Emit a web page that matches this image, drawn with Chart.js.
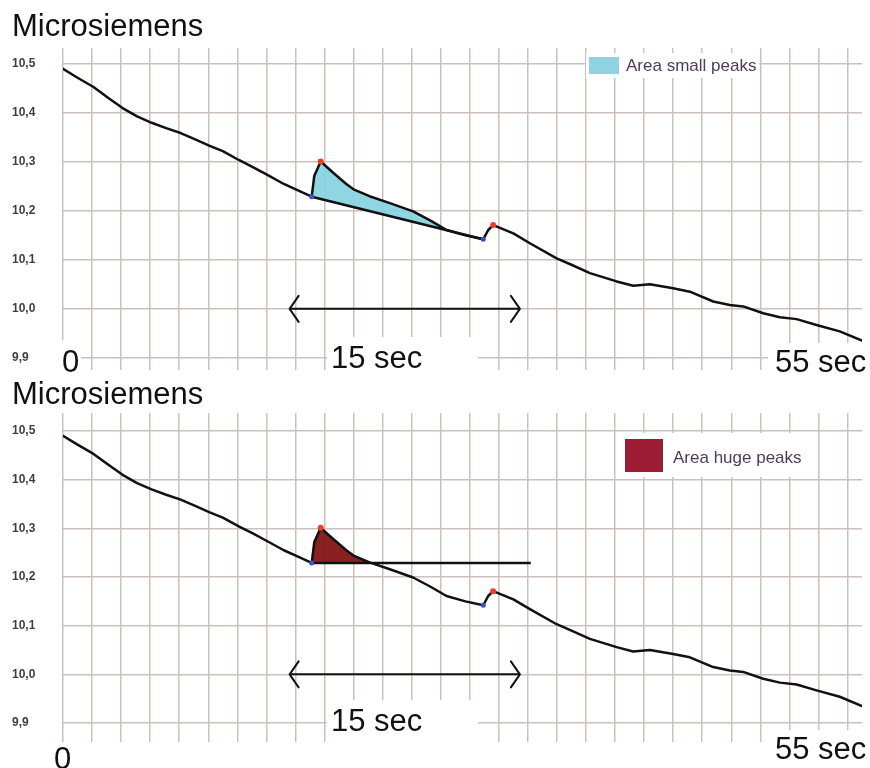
<!DOCTYPE html>
<html>
<head>
<meta charset="utf-8">
<script src="https://cdn.jsdelivr.net/npm/chart.js@4.4.1/dist/chart.umd.min.js"></script>
<style>
  html, body { margin: 0; padding: 0; background: #fff; }
  #wrap { position: relative; width: 870px; height: 768px; overflow: hidden; }
  canvas { display: block; }
</style>
</head>
<body>
<div id="wrap">
  <canvas id="panelSmall" width="870" height="380"></canvas>
  <canvas id="panelHuge" width="870" height="388"></canvas>
</div>
<script>
// Skin conductance trace: time in seconds, value in microsiemens
const timeSec = [0, 1, 2.1, 3.1, 4.1, 5.1, 6.1, 7.1, 8.1, 9.1, 10.1, 11, 12.1, 13.1, 14.1, 15.2, 16.1,
  17.12, 17.3, 17.74, 18.6, 19.5, 20, 21.1, 22.5, 24.1, 25.3, 26.4, 27.7, 28.93, 29.27, 29.61,
  31, 32.14, 33.98, 35, 36.27, 38.11, 39.25, 40.4, 41.2, 42, 43.15, 44.76, 45.9, 46.82,
  48.2, 49.35, 50.5, 51.87, 53.47, 55];
const conductance = [10.490, 10.472, 10.453, 10.431, 10.410, 10.393, 10.380, 10.369, 10.359, 10.346,
  10.333, 10.322, 10.304, 10.289, 10.273, 10.255, 10.243,
  10.229, 10.272, 10.301, 10.278, 10.255, 10.244, 10.230, 10.216, 10.199, 10.180, 10.161, 10.150,
  10.142, 10.161, 10.171,
  10.154, 10.134, 10.103, 10.090, 10.073, 10.056, 10.047, 10.050, 10.046, 10.042, 10.035, 10.015,
  10.008, 10.005, 9.991, 9.983, 9.979, 9.967, 9.954, 9.935];

// Detected response peaks (red) and their onsets (blue)
const peakTimes = [17.74, 29.61];
const peakValues = [10.301, 10.171];
const onsetTimes = [17.12, 28.93];
const onsetValues = [10.229, 10.142];

// End of the flat reference level used for the large-peak area
const hugeBaselineEnd = 32.2;

// Measuring span marker
const spanStart = 15.6;
const spanEnd = 31.45;
const spanLevel = 10.0;

// Axis grid and labels
const xGridTicks = [0, 2, 4, 6, 8, 10, 12, 14, 16, 18, 20, 22, 24, 26, 28, 30, 32, 34, 36, 38, 40, 42, 44, 46, 48, 50, 52, 54];
const yTicks = [9.9, 10.0, 10.1, 10.2, 10.3, 10.4, 10.5];
const yTickLabels = ['9,9', '10,0', '10,1', '10,2', '10,3', '10,4', '10,5'];

const titleText = 'Microsiemens';
const startLabel = '0';
const spanLabel = '15 sec';
const endLabel = '55 sec';
const smallLegend = 'Area small peaks';
const hugeLegend = 'Area huge peaks';

const FONT = '"Liberation Sans", Arial, Helvetica, sans-serif';
Chart.defaults.font.family = FONT;

const GRID = '#cbc0bc';

const curvePoints = timeSec.map((t, i) => ({ x: t, y: conductance[i] }));
const responsePoints = curvePoints.filter(p => p.x >= onsetTimes[0] && p.x <= onsetTimes[1]);
const peakPoints = peakTimes.map((t, i) => ({ x: t, y: peakValues[i] }));
const onsetPoints = onsetTimes.map((t, i) => ({ x: t, y: onsetValues[i] }));

// Draws label backgrounds, the span arrowheads, the legend and the big axis captions
const panelDecor = {
  id: 'panelDecor',
  beforeDatasetsDraw(chart, args, opts) {
    const ctx = chart.ctx;
    ctx.save();
    ctx.fillStyle = '#ffffff';
    const lg = opts.legend;
    ctx.fillRect(lg.box[0], lg.box[1], lg.box[2], lg.box[3]);
    opts.labels.forEach(l => { if (l.box) ctx.fillRect(l.box[0], l.box[1], l.box[2], l.box[3]); });
    ctx.restore();
  },
  afterDatasetsDraw(chart, args, opts) {
    const ctx = chart.ctx;
    const xs = chart.scales.x, ys = chart.scales.y;
    ctx.save();
    // arrowheads of the span marker
    const y = ys.getPixelForValue(spanLevel);
    const x1 = xs.getPixelForValue(spanStart);
    const x2 = xs.getPixelForValue(spanEnd);
    ctx.strokeStyle = '#111';
    ctx.lineWidth = 2;
    ctx.lineJoin = 'round';
    ctx.lineCap = 'round';
    ctx.beginPath();
    ctx.moveTo(x1 + 9, y - 13); ctx.lineTo(x1, y); ctx.lineTo(x1 + 9, y + 13);
    ctx.moveTo(x2 - 9, y - 13); ctx.lineTo(x2, y); ctx.lineTo(x2 - 9, y + 13);
    ctx.stroke();

    // legend
    const lg = opts.legend;
    ctx.fillStyle = lg.color;
    ctx.fillRect(lg.swatch[0], lg.swatch[1], lg.swatch[2], lg.swatch[3]);
    ctx.fillStyle = '#4f3b5c';
    ctx.font = '17px ' + FONT;
    ctx.textBaseline = 'middle';
    ctx.textAlign = 'left';
    ctx.fillText(lg.text, lg.tx, lg.ty);

    // time captions
    ctx.fillStyle = '#111';
    ctx.font = '31px ' + FONT;
    ctx.textBaseline = 'alphabetic';
    opts.labels.forEach(l => ctx.fillText(l.text, l.x, l.y));
    ctx.restore();
  }
};

function makePanel(canvasId, p) {
  const baseline = p.kind === 'small'
    ? [onsetPoints[0], onsetPoints[1]]
    : [{ x: onsetTimes[0], y: onsetValues[0] }, { x: hugeBaselineEnd, y: onsetValues[0] }];

  return new Chart(document.getElementById(canvasId), {
    type: 'line',
    data: {
      datasets: [
        { label: 'peaks', data: peakPoints, showLine: false, pointRadius: 3, pointHoverRadius: 3,
          pointBackgroundColor: '#ea3f2a', pointBorderWidth: 0 },
        { label: 'onsets', data: onsetPoints, showLine: false, pointRadius: 2.5, pointHoverRadius: 2.5,
          pointBackgroundColor: '#3a4fc8', pointBorderWidth: 0 },
        { label: 'conductance', data: curvePoints, borderColor: '#111', borderWidth: 2.5, pointRadius: 0,
          fill: false, borderJoinStyle: 'round', borderCapStyle: 'round' },
        { label: 'reference', data: baseline, borderColor: '#111', borderWidth: 2.5, pointRadius: 0, fill: false },
        { label: 'span', data: [{ x: spanStart, y: spanLevel }, { x: spanEnd, y: spanLevel }],
          borderColor: '#111', borderWidth: 2, pointRadius: 0, fill: false },
        { label: p.legendText, data: responsePoints, borderWidth: 0, pointRadius: 0,
          fill: { target: 3, above: p.fillColor, below: 'rgba(0,0,0,0)' } }
      ]
    },
    options: {
      responsive: false,
      animation: false,
      devicePixelRatio: 1,
      events: [],
      layout: { padding: { left: 12, right: 8, top: 0, bottom: p.padBottom } },
      plugins: {
        legend: { display: false },
        tooltip: { enabled: false },
        title: {
          display: true, text: titleText, align: 'start', color: '#111',
          font: { size: 31, weight: 'normal', lineHeight: 1 },
          padding: { top: p.titleTop, bottom: p.titleBottom }
        },
        panelDecor: { legend: p.legend, labels: p.labels }
      },
      scales: {
        x: {
          type: 'linear', min: 0, max: 55,
          afterBuildTicks: s => { s.ticks = xGridTicks.map(v => ({ value: v })); },
          grid: { color: GRID, lineWidth: 1.5, drawTicks: false },
          border: { display: false },
          ticks: { display: false }
        },
        y: {
          type: 'linear', min: p.yMin, max: p.yMax,
          afterBuildTicks: s => { s.ticks = yTicks.map(v => ({ value: v })); },
          afterFit: s => { s.width = 51; },
          grid: { color: GRID, lineWidth: 1.5, drawTicks: false },
          border: { display: false },
          ticks: {
            crossAlign: 'far', color: '#3f3f3f',
            font: { size: 12, weight: 'bold' },
            callback: (v, i) => yTickLabels[i]
          }
        }
      }
    },
    plugins: [panelDecor]
  });
}

makePanel('panelSmall', {
  kind: 'small',
  legendText: smallLegend,
  fillColor: 'rgba(134, 210, 224, 0.92)',
  yMin: 9.8755, yMax: 10.5327,
  padBottom: 10, titleTop: 12, titleBottom: 5,
  legend: { box: [586, 53, 173, 25], swatch: [589, 57, 30, 17], color: '#8fd3e0',
            text: smallLegend, tx: 626, ty: 66 },
  labels: [
    { text: startLabel, x: 62, y: 372, box: [58, 340, 23, 40] },
    { text: spanLabel, x: 331, y: 368, box: [327, 337, 151, 43] },
    { text: endLabel, x: 775, y: 372, box: [768, 343, 102, 37] }
  ]
});

makePanel('panelHuge', {
  kind: 'huge',
  legendText: hugeLegend,
  fillColor: 'rgba(128, 16, 18, 0.93)',
  yMin: 9.861, yMax: 10.537,
  padBottom: 26, titleTop: 0, titleBottom: 2,
  legend: { box: [619, 53, 190, 44], swatch: [625, 59, 38, 33], color: '#9c1c34',
            text: hugeLegend, tx: 673, ty: 78 },
  labels: [
    { text: startLabel, x: 54, y: 389 },
    { text: spanLabel, x: 331, y: 351, box: [327, 320, 151, 44] },
    { text: endLabel, x: 775, y: 379, box: [768, 350, 102, 38] }
  ]
});
</script>
</body>
</html>
